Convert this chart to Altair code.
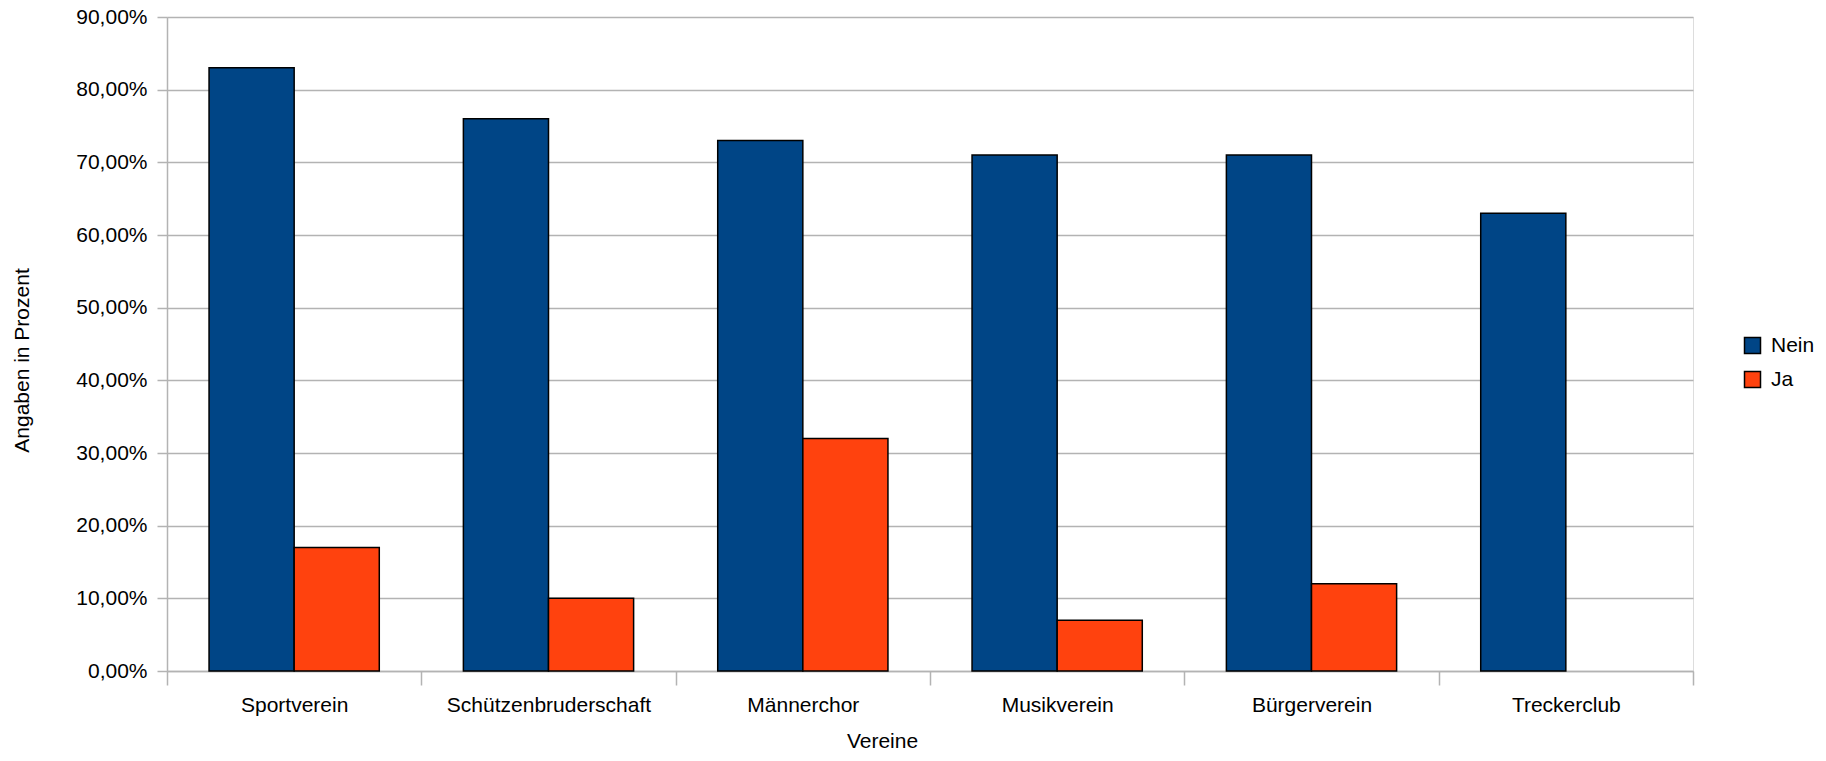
import altair as alt
import pandas as pd

vereine = ["Sportverein", "Schützenbruderschaft", "Männerchor", "Musikverein", "Bürgerverein", "Treckerclub"]
nein = [0.83, 0.76, 0.73, 0.71, 0.71, 0.63]
ja = [0.17, 0.10, 0.32, 0.07, 0.12, None]
series = ["Nein", "Ja"]
colors = ["#004586", "#ff420e"]
y_ticks = [0.0, 0.1, 0.2, 0.3, 0.4, 0.5, 0.6, 0.7, 0.8, 0.9]

rows = []
for v, n, j in zip(vereine, nein, ja):
    if n is not None:
        rows.append({"Verein": v, "Antwort": "Nein", "Wert": n})
    if j is not None:
        rows.append({"Verein": v, "Antwort": "Ja", "Wert": j})
df = pd.DataFrame(rows)

FONT = "Liberation Sans"
GRID = "#b3b3b3"

chart = alt.Chart(df).mark_bar(stroke="black", strokeWidth=1.5).encode(
    x=alt.X(
        "Verein:N",
        sort=vereine,
        scale=alt.Scale(paddingInner=0, paddingOuter=0),
        axis=alt.Axis(
            title="Vereine",
            labelAngle=0,
            labelLimit=0,
            tickBand="extent",
            tickSize=14,
            tickColor=GRID,
            tickWidth=1.5,
            domainColor=GRID,
            domainWidth=1.5,
            labelPadding=9,
            labelFontSize=21,
            labelFont=FONT,
            labelColor="black",
            titleFont=FONT,
            titleFontSize=21,
            titleFontWeight="normal",
            titleColor="black",
            titleX=715,
            titleY=76,
            titleBaseline="alphabetic",
            titleAlign="center",
            grid=False,
        ),
    ),
    xOffset=alt.XOffset(
        "Antwort:N",
        sort=series,
        scale=alt.Scale(domain=series, paddingInner=0, paddingOuter=0.494),
    ),
    y=alt.Y(
        "Wert:Q",
        scale=alt.Scale(domain=[0, 0.9], nice=False),
        axis=alt.Axis(
            title="Angaben in Prozent",
            values=y_ticks,
            labelExpr="replace(format(datum.value, '.2%'), '.', ',')",
            tickSize=10,
            tickColor=GRID,
            tickWidth=1.5,
            domainColor=GRID,
            domainWidth=1.5,
            gridColor=GRID,
            gridWidth=1.5,
            labelPadding=10,
            labelFontSize=21,
            labelFont=FONT,
            labelColor="black",
            titleFont=FONT,
            titleFontSize=21,
            titleFontWeight="normal",
            titleColor="black",
            titleAngle=-90,
            titleX=-145,
            titleY=343,
            titleBaseline="middle",
            titleAlign="center",
        ),
    ),
    color=alt.Color(
        "Antwort:N",
        sort=series,
        scale=alt.Scale(domain=series, range=colors),
        legend=alt.Legend(
            title=None,
            orient="none",
            legendX=1575,
            legendY=318,
            symbolType="square",
            symbolSize=256,
            symbolStrokeColor="black",
            symbolStrokeWidth=1.5,
            symbolOpacity=1,
            labelFont=FONT,
            labelFontSize=21,
            labelColor="black",
            labelOffset=8,
            rowPadding=11,
            padding=0,
        ),
    ),
).properties(
    width=1526,
    height=654,
    autosize=alt.AutoSizeParams(type="none"),
    padding={"left": 159, "top": 9, "right": 125, "bottom": 82},
).configure_view(
    stroke=GRID, strokeWidth=1.5
).configure(background="white")

chart.save("out.html", embed_options={"renderer": "svg", "actions": False})
